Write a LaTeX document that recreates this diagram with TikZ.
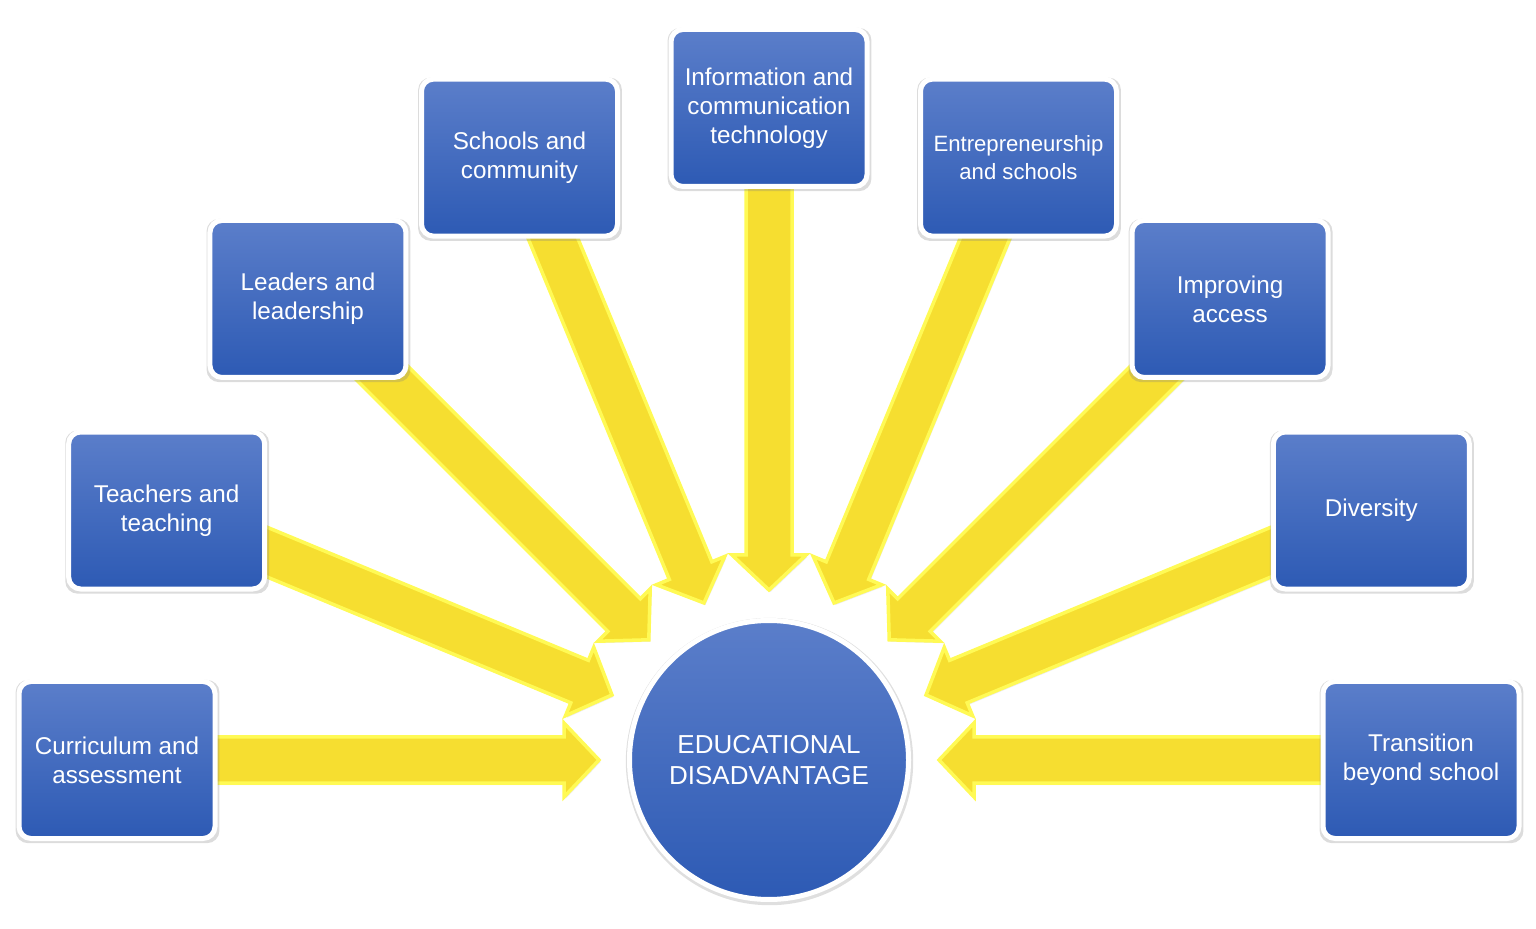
\documentclass[tikz,border=0pt]{standalone}
\usepackage{fontspec}
\setmainfont{Liberation Sans}
\usetikzlibrary{calc,shadows,backgrounds}
\definecolor{boxtop}{HTML}{5B7ECA}
\definecolor{boxbot}{HTML}{2D5AB4}
\definecolor{arrfill}{HTML}{F6DE30}
\definecolor{arrline}{HTML}{FFFA55}
\newcommand\ap[3]{($(hub)!#2!(#1)!#3!90:(#1)$)}
\newcommand\am[3]{($(hub)!#2!(#1)!#3!-90:(#1)$)}

\begin{document}
\begin{tikzpicture}[
  topic/.style={rectangle,rounded corners=0.24cm,draw=white,line width=0.1cm,
    top color=boxtop,bottom color=boxbot,text=white,align=center,
    minimum width=3.92cm,minimum height=3.14cm,
    font=\fontsize{13.8}{16.5}\selectfont,
    drop shadow={shadow scale=1.04,shadow xshift=0.01cm,shadow yshift=-0.03cm,opacity=0.28}},
  hubnode/.style={circle,draw=white,line width=0.1cm,
    top color=boxtop,bottom color=boxbot,text=white,align=center,
    minimum size=5.58cm,font=\fontsize{14.8}{17.6}\selectfont,
    drop shadow={shadow scale=1.03,shadow xshift=0.01cm,shadow yshift=-0.03cm,opacity=0.25}},
  blockarrow/.style={fill=arrfill,draw=arrline,line width=0.07cm,line join=miter,
    drop shadow={shadow xshift=0.03cm,shadow yshift=-0.04cm,opacity=0.15}}]
\useasboundingbox (0,0) rectangle (30.72,18.56);

\node[hubnode] (hub) at (15.38,3.36) {EDUCATIONAL\\DISADVANTAGE};

\node[topic] (t1) at ($(hub)+(0:13.04cm)$) {Transition\\beyond school};
\node[topic] (t2) at ($(hub)+(22.5:13.04cm)$) {Diversity};
\node[topic] (t3) at ($(hub)+(45:13.04cm)$) {Improving\\access};
\node[topic,font=\fontsize{12.6}{15.5}\selectfont] (t4) at ($(hub)+(67.5:13.04cm)$) {Entrepreneurship\\and schools};
\node[topic] (t5) at ($(hub)+(90:13.04cm)$) {Information and\\communication\\technology};
\node[topic] (t6) at ($(hub)+(112.5:13.04cm)$) {Schools and\\community};
\node[topic] (t7) at ($(hub)+(135:13.04cm)$) {Leaders and\\leadership};
\node[topic] (t8) at ($(hub)+(157.5:13.04cm)$) {Teachers and\\teaching};
\node[topic] (t9) at ($(hub)+(180:13.04cm)$) {Curriculum and\\assessment};

\begin{scope}[on background layer]
\foreach \i in {1,...,9}
  \draw[blockarrow] \ap{t\i}{3.4cm}{0cm} -- \ap{t\i}{4.1cm}{0.74cm} -- \ap{t\i}{4.1cm}{0.46cm}
    -- \ap{t\i}{12cm}{0.46cm} -- \am{t\i}{12cm}{0.46cm} -- \am{t\i}{4.1cm}{0.46cm}
    -- \am{t\i}{4.1cm}{0.74cm} -- cycle;
\end{scope}
\end{tikzpicture}
\end{document}
